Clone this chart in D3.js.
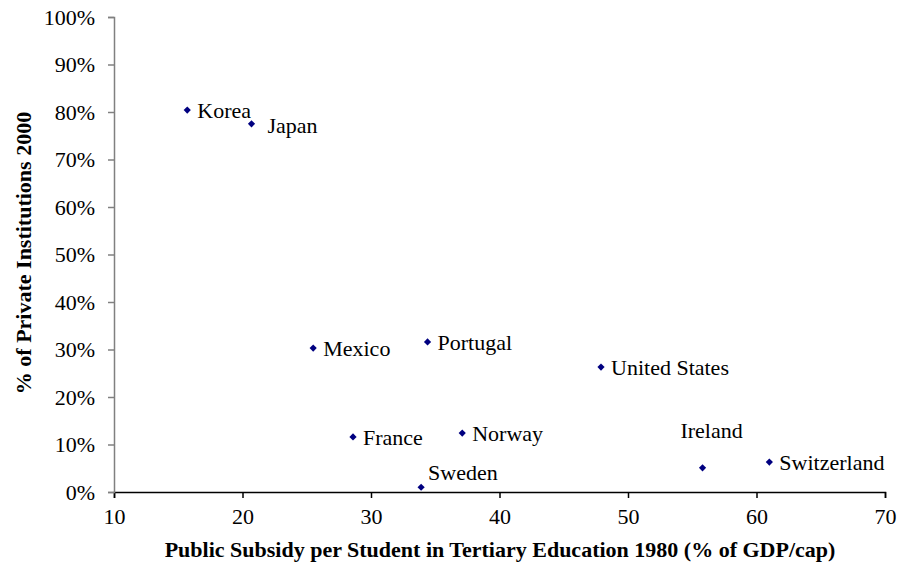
<!DOCTYPE html>
<meta charset="utf-8">
<body style="margin: unset; overflow: hidden; background: #fff">
<script src="https://d3js.org/d3.v7.min.js"></script>
<script>
    // countries and their values
    var countries = ["Korea", "Japan", "Mexico", "Portugal", "United States", "France",
        "Norway", "Sweden", "Ireland", "Switzerland"];
    var subsidy1980 = [15.7, 20.7, 25.5, 34.4, 47.9, 28.6, 37.1, 33.9, 55.8, 61.0];
    var privateShare2000 = [0.804, 0.775, 0.303, 0.316, 0.263, 0.116, 0.124, 0.010, 0.051, 0.063];

    var xTicks = [10, 20, 30, 40, 50, 60, 70];
    var yTicks = [0, 0.1, 0.2, 0.3, 0.4, 0.5, 0.6, 0.7, 0.8, 0.9, 1.0];

    var xTitle = "Public Subsidy per Student in Tertiary Education 1980 (% of GDP/cap)";
    var yTitle = "% of Private Institutions 2000";

    // where each label sits relative to its marker (default: just right of it)
    var labelOffset = {
        "Japan": {dx: 16, dy: 1, anchor: "start"},
        "Sweden": {dx: 7, dy: -15, anchor: "start"},
        "Ireland": {dx: 9, dy: -37, anchor: "middle"}
    };

    var width = 900, height = 577;
    var margin = {left: 114, right: 15, top: 17, bottom: 85};
    var fontSize = 22;
    var serif = "'Liberation Serif', 'Times New Roman', Times, serif";

    var svg = d3.select("body").append("svg")
        .attr("width", width)
        .attr("height", height);

    var x = d3.scaleLinear().domain([10, 70]).range([margin.left, width - margin.right]);
    var y = d3.scaleLinear().domain([0, 1]).range([height - margin.bottom, margin.top]);

    var xAxis = svg.append("g")
        .attr("transform", "translate(0," + y(0) + ")")
        .call(d3.axisBottom(x).tickValues(xTicks).tickSize(6).tickPadding(10).tickFormat(d3.format("d")));
    xAxis.select(".domain").attr("stroke", "#000").attr("stroke-width", 1.5);
    xAxis.selectAll(".tick line").attr("stroke", "#000").attr("stroke-width", 1.5);

    var yAxis = svg.append("g")
        .attr("transform", "translate(" + x(10) + ",0)")
        .call(d3.axisLeft(y).tickValues(yTicks).tickSize(6).tickPadding(13).tickFormat(d3.format(".0%")));
    yAxis.select(".domain").attr("stroke", "#808080").attr("stroke-width", 1.5);
    yAxis.selectAll(".tick line").attr("stroke", "#808080").attr("stroke-width", 1.5);

    var points = svg.append("g").selectAll("g")
        .data(countries)
        .enter().append("g")
        .attr("transform", function (d, i) {
            return "translate(" + x(subsidy1980[i]) + "," + y(privateShare2000[i]) + ")";
        });

    points.append("path")
        .attr("d", d3.symbol().type(d3.symbolSquare).size(26))
        .attr("transform", "rotate(45)")
        .attr("fill", "#000080");

    points.append("text")
        .attr("x", function (d) { return labelOffset[d] ? labelOffset[d].dx : 10; })
        .attr("y", function (d) { return labelOffset[d] ? labelOffset[d].dy : 0; })
        .attr("dy", "0.35em")
        .attr("text-anchor", function (d) { return labelOffset[d] ? labelOffset[d].anchor : "start"; })
        .text(function (d) { return d; });

    svg.append("text")
        .attr("x", 500)
        .attr("y", 557)
        .attr("text-anchor", "middle")
        .attr("font-weight", "bold")
        .text(xTitle);

    svg.append("text")
        .attr("transform", "translate(31,253) rotate(-90)")
        .attr("text-anchor", "middle")
        .attr("font-weight", "bold")
        .text(yTitle);

    // every piece of text in the same serif face
    svg.selectAll("text")
        .style("font-family", serif)
        .style("font-size", fontSize + "px")
        .attr("fill", "#000");
</script>
